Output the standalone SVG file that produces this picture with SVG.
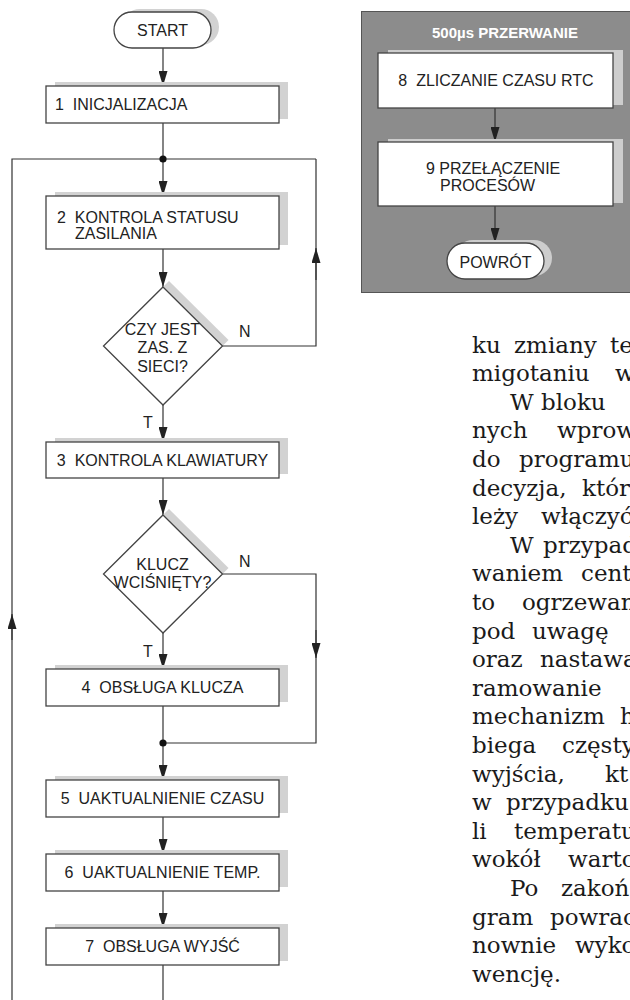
<svg xmlns="http://www.w3.org/2000/svg" width="630" height="1000" viewBox="0 0 630 1000">
<defs>
<marker id="ah" markerUnits="userSpaceOnUse" markerWidth="15" markerHeight="9" refX="15" refY="4.5" orient="auto"><path d="M0,0 L15,4.5 L0,9 z" fill="#222"/></marker>
<style>
.box{fill:#fff;stroke:#444;stroke-width:1.3}
.sh{fill:#d2d2d2}
.sh2{fill:#cdcdcd}
.lbl{font-family:"Liberation Sans",Arial,sans-serif;font-size:16px;fill:#222}
.mid{text-anchor:middle}
.ttl{font-family:"Liberation Sans",Arial,sans-serif;font-size:15px;font-weight:bold;fill:#fff;text-anchor:middle}
.con{fill:none;stroke:#333;stroke-width:1.2}
.arr{fill:none;stroke:#333;stroke-width:1.2;marker-end:url(#ah)}
.body{font-family:"DejaVu Serif",serif;font-size:23px;fill:#1a1a1a}
</style>
</defs>
<rect width="630" height="1000" fill="#fff"/>

<g id="panel">
<rect x="361.5" y="11.5" width="275" height="281" fill="#8c8c8c" stroke="#555" stroke-width="1"/>
<text class="ttl" x="505" y="38">500µs PRZERWANIE</text>
</g>

<g id="connectors">
<path class="arr" d="M163,48 V86"/>
<path class="arr" d="M163,123 V196"/>
<path class="con" d="M12,1000 V159 H316"/>
<path class="arr" d="M12,640 V614"/>
<path class="con" d="M222.5,346 H316 V159"/>
<path class="arr" d="M316,280 V248"/>
<path class="arr" d="M163,249 V287"/>
<path class="arr" d="M163,405 V442"/>
<path class="arr" d="M163,478 V515"/>
<path class="arr" d="M163,633 V669"/>
<path class="con" d="M222.5,574 H316 V743 H163"/>
<path class="arr" d="M316,630 V658"/>
<path class="arr" d="M163,706 V780"/>
<path class="arr" d="M163,817 V854"/>
<path class="arr" d="M163,891 V928"/>
<path class="con" d="M163,965 V1000"/>
<path class="arr" d="M495,108 V142"/>
<path class="arr" d="M495,206 V243"/>
<circle cx="163" cy="159" r="3.6" fill="#111"/>
<circle cx="163" cy="743" r="3.6" fill="#111"/>
<text class="lbl" x="239" y="337">N</text>
<text class="lbl" x="143" y="428">T</text>
<text class="lbl" x="239" y="567">N</text>
<text class="lbl" x="143" y="657">T</text>
</g>

<g id="start">
<rect class="sh" x="122" y="9" width="97" height="36" rx="18"/>
<rect class="box" x="114" y="12" width="97" height="36" rx="18"/>
<text class="lbl mid" x="162.5" y="36">START</text>
</g>

<g id="n1">
<rect class="sh" x="55" y="82" width="233" height="37"/>
<rect class="box" x="46" y="86" width="233" height="37"/>
<text class="lbl" x="55" y="110" xml:space="preserve">1  INICJALIZACJA</text>
</g>

<g id="n2">
<rect class="sh" x="55" y="192" width="233" height="53"/>
<rect class="box" x="46" y="196" width="233" height="53"/>
<text class="lbl" x="57" y="223" xml:space="preserve">2  KONTROLA STATUSU</text>
<text class="lbl" x="75" y="239">ZASILANIA</text>
</g>

<g id="d1">
<polygon class="sh" points="169,281 228.5,340 169,399 109.5,340"/>
<polygon class="box" points="163,287 222.5,346 163,405 103.5,346"/>
<text class="lbl mid" x="162.5" y="335">CZY JEST</text>
<text class="lbl mid" x="162.5" y="353">ZAS. Z</text>
<text class="lbl mid" x="162.5" y="372">SIECI?</text>
</g>

<g id="n3">
<rect class="sh" x="55" y="438" width="233" height="36"/>
<rect class="box" x="46" y="442" width="233" height="36"/>
<text class="lbl mid" x="162.5" y="466" xml:space="preserve">3  KONTROLA KLAWIATURY</text>
</g>

<g id="d2">
<polygon class="sh" points="169,509 228.5,568 169,627 109.5,568"/>
<polygon class="box" points="163,515 222.5,574 163,633 103.5,574"/>
<text class="lbl mid" x="162.5" y="570">KLUCZ</text>
<text class="lbl mid" x="162.5" y="588">WCIŚNIĘTY?</text>
</g>

<g id="n4">
<rect class="sh" x="55" y="665" width="233" height="37"/>
<rect class="box" x="46" y="669" width="233" height="37"/>
<text class="lbl mid" x="162.5" y="693" xml:space="preserve">4  OBSŁUGA KLUCZA</text>
</g>

<g id="n5">
<rect class="sh" x="55" y="776" width="233" height="37"/>
<rect class="box" x="46" y="780" width="233" height="37"/>
<text class="lbl mid" x="162.5" y="804" xml:space="preserve">5  UAKTUALNIENIE CZASU</text>
</g>

<g id="n6">
<rect class="sh" x="55" y="850" width="233" height="37"/>
<rect class="box" x="46" y="854" width="233" height="37"/>
<text class="lbl mid" x="162.5" y="878" xml:space="preserve">6  UAKTUALNIENIE TEMP.</text>
</g>

<g id="n7">
<rect class="sh" x="55" y="924" width="233" height="37"/>
<rect class="box" x="46" y="928" width="233" height="37"/>
<text class="lbl mid" x="162.5" y="952" xml:space="preserve">7  OBSŁUGA WYJŚĆ</text>
</g>

<g id="n8">
<rect class="sh2" x="388" y="50" width="235" height="55"/>
<rect class="box" x="378" y="53" width="235" height="55"/>
<text class="lbl mid" x="496" y="86" xml:space="preserve">8  ZLICZANIE CZASU RTC</text>
</g>

<g id="n9">
<rect class="sh2" x="388" y="139" width="235" height="64"/>
<rect class="box" x="378" y="142" width="235" height="64"/>
<text class="lbl" x="426" y="174">9 PRZEŁĄCZENIE</text>
<text class="lbl" x="440" y="191">PROCESÓW</text>
</g>

<g id="powrot">
<rect class="sh2" x="455" y="240" width="97" height="36" rx="18"/>
<rect class="box" x="447" y="243" width="97" height="36" rx="18"/>
<text class="lbl mid" x="495.5" y="268">POWRÓT</text>
</g>

<g id="article">
<text class="body" y="352.5"><tspan x="472">ku</tspan><tspan x="514">zmiany</tspan><tspan x="610">te</tspan></text>
<text class="body" y="381.1"><tspan x="472">migotaniu</tspan><tspan x="615">w</tspan></text>
<text class="body" y="409.7"><tspan x="510">W bloku</tspan></text>
<text class="body" y="438.3"><tspan x="472">nych</tspan><tspan x="557">wprow</tspan></text>
<text class="body" y="466.9"><tspan x="472">do</tspan><tspan x="519">programu</tspan></text>
<text class="body" y="495.5"><tspan x="472">decyzja,</tspan><tspan x="582">któr</tspan></text>
<text class="body" y="524.1"><tspan x="472">leży</tspan><tspan x="541">włączyć</tspan></text>
<text class="body" y="552.7"><tspan x="510">W</tspan><tspan x="543">przypad</tspan></text>
<text class="body" y="581.3"><tspan x="472">waniem</tspan><tspan x="581">cent</tspan></text>
<text class="body" y="609.9"><tspan x="472">to</tspan><tspan x="522">ogrzewan</tspan></text>
<text class="body" y="638.5"><tspan x="472">pod</tspan><tspan x="532">uwagę</tspan></text>
<text class="body" y="667.1"><tspan x="472">oraz</tspan><tspan x="540">nastawa</tspan></text>
<text class="body" y="695.7"><tspan x="472">ramowanie</tspan></text>
<text class="body" y="724.3"><tspan x="472">mechanizm</tspan><tspan x="620">h</tspan></text>
<text class="body" y="752.9"><tspan x="472">biega</tspan><tspan x="562">częsty</tspan></text>
<text class="body" y="781.5"><tspan x="472">wyjścia,</tspan><tspan x="605">kt</tspan></text>
<text class="body" y="810.1"><tspan x="472">w</tspan><tspan x="506">przypadku</tspan></text>
<text class="body" y="838.7"><tspan x="472">li</tspan><tspan x="514">temperatu</tspan></text>
<text class="body" y="867.3"><tspan x="472">wokół</tspan><tspan x="568">warto</tspan></text>
<text class="body" y="895.9"><tspan x="510">Po</tspan><tspan x="561">zakoń</tspan></text>
<text class="body" y="924.5"><tspan x="472">gram</tspan><tspan x="550">powrac</tspan></text>
<text class="body" y="953.1"><tspan x="472">nownie</tspan><tspan x="575">wyko</tspan></text>
<text class="body" y="981.7"><tspan x="472">wencję.</tspan></text>
</g>
</svg>
